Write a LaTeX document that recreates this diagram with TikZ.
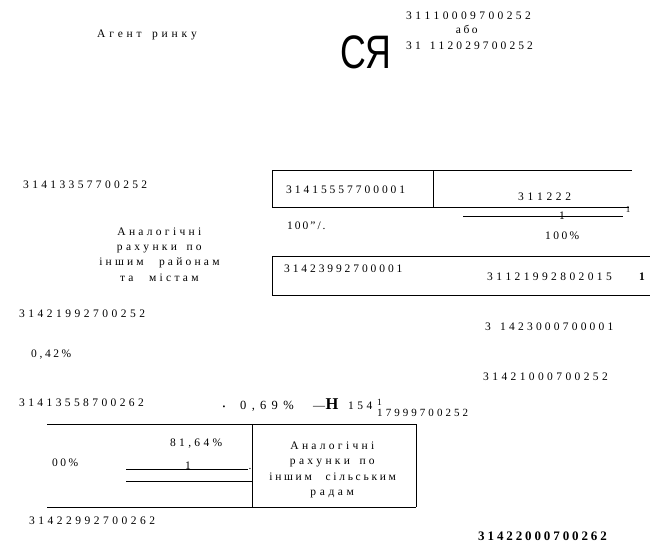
\documentclass[tikz,border=0pt]{standalone}
\usepackage{graphicx}
\usepackage{fontspec}
\setmainfont{Liberation Serif}
\newfontfamily\sansf{Liberation Sans}
\newlength\lsp
\makeatletter
\newcommand\ls[2]{{\setlength\lsp{#1}\ls@aux#2\relax}}
\def\ls@aux#1{\ifx#1\relax\else#1\kern\lsp\expandafter\ls@aux\fi}
\makeatother
\begin{document}
\begin{tikzpicture}[x=1pt,y=-1pt,
  txt/.style={inner sep=0pt, anchor=west, text height=8pt, text depth=0pt, font=\fontsize{11.5}{13}\selectfont},
  blk/.style={inner sep=0pt, align=center, font=\fontsize{11.5}{15.2}\selectfont},
  ln/.style={line width=1pt}]
\useasboundingbox (0,0) rectangle (651,542);
% top
\node[txt] (agent) at (97,33) {\ls{3.8pt}{Агент~ринку}};
\node[inner sep=0pt, anchor=base west, font=\sansf\fontsize{47}{47}\selectfont] (sya) at (340,68) {\scalebox{0.76}[1]{СЯ}};
\node[txt] (n1) at (406,15) {\ls{3.4pt}{31110009700252}};
\node[txt, anchor=center] (abo) at (468,29) {\ls{2.5pt}{або}};
\node[txt] (n2) at (406,45) {\ls{3.1pt}{31~112029700252}};
% upper boxes
\draw[ln] (272,170) -- (632,170);
\draw[ln] (272,170) -- (272,207);
\draw[ln] (433,170) -- (433,207);
\draw[ln] (272,207) -- (629,207);
\node[txt, anchor=center, font=\fontsize{9}{10}\selectfont] (one1) at (628,208.5) {1};
\draw[ln] (463,216) -- (623,216);
\node[txt, anchor=center] (one2) at (562,215) {1};
\node[txt] (n3) at (23,184) {\ls{3.35pt}{31413357700252}};
\node[txt] (n4) at (286,189) {\ls{2.96pt}{31415557700001}};
\node[txt] (n5) at (518,196) {\ls{3.7pt}{311222}};
\node[txt] (p100a) at (287,225) {\ls{2pt}{100"/.}};
\node[txt] (p100b) at (545,235) {\ls{2.4pt}{100\%}};
\draw[ln] (272,256) -- (650,256);
\draw[ln] (272,256) -- (272,295);
\draw[ln] (272,295) -- (650,295);
\node[txt] (n6) at (284,268) {\ls{2.9pt}{31423992700001}};
\node[txt] (n7) at (487,276) {\ls{3.4pt}{31121992802015}};
\node[txt, font=\bfseries\fontsize{11.5}{13}\selectfont] (one3) at (639,276) {1};
\node[blk] (anal1) at (161,254.5) {\ls{3.3pt}{Аналогічні}\\\ls{3.3pt}{рахунки~по}\\\ls{3.2pt}{іншим~~районам}\\\ls{3.3pt}{та~~містам}};
% middle
\node[txt] (n8) at (19,313) {\ls{3.5pt}{31421992700252}};
\node[txt] (n9) at (485,326) {\ls{3.2pt}{3~1423000700001}};
\node[txt] (p042) at (31,353) {\ls{2.6pt}{0,42\%}};
\node[txt] (n10) at (483,376) {\ls{3.4pt}{31421000700252}};
\node[txt] (n11) at (19,402) {\ls{3.4pt}{31413558700262}};
\node[txt, anchor=center, font=\fontsize{8}{8}\selectfont] (bul) at (224,405) {•};
\node[txt, font=\fontsize{12.5}{13}\selectfont] (p069) at (240,405) {\ls{5.3pt}{0,69\%}};
\node[txt, font=\fontsize{12}{13}\selectfont] (dashh) at (313,405) {—\kern0.5pt{\bfseries\fontsize{16.5}{16}\selectfont H}};
\node[txt] (n154) at (348,405) {\ls{3.5pt}{154}};
\node[txt, font=\fontsize{9.5}{10}\selectfont] (sup1) at (377,401) {1};
\node[txt, font=\fontsize{11}{12}\selectfont] (n12) at (377,412) {\ls{3.05pt}{17999700252}};
% lower box
\draw[ln] (47,424) -- (416,424);
\draw[ln] (252,424) -- (252,507);
\draw[ln] (416,424) -- (416,507);
\draw[ln] (47,507) -- (416,507);
\node[txt] (p8164) at (170,442) {\ls{3.3pt}{81,64\%}};
\node[txt] (p00) at (52,462) {\ls{2.5pt}{00\%}};
\draw[ln] (126,469) -- (248,469);
\draw[ln] (126,481) -- (252,481);
\node[inner sep=0pt, anchor=base, font=\fontsize{11.5}{13}\selectfont] (one4) at (188,469) {1};
\node[inner sep=0pt, anchor=base, font=\fontsize{11.5}{13}\selectfont] (dot) at (250,469) {.};
\node[blk] (anal2) at (334,470) {\ls{3.3pt}{Аналогічні}\\\ls{3.3pt}{рахунки~по}\\\ls{2.7pt}{іншим~~сільським}\\\ls{3.6pt}{радам}};
\node[txt] (n13) at (29,520) {\ls{3.5pt}{31422992700262}};
\node[inner sep=0pt, anchor=base west, font=\bfseries\fontsize{13}{14}\selectfont] (n14) at (478,540.5) {\ls{2.9pt}{31422000700262}};
\end{tikzpicture}
\end{document}
